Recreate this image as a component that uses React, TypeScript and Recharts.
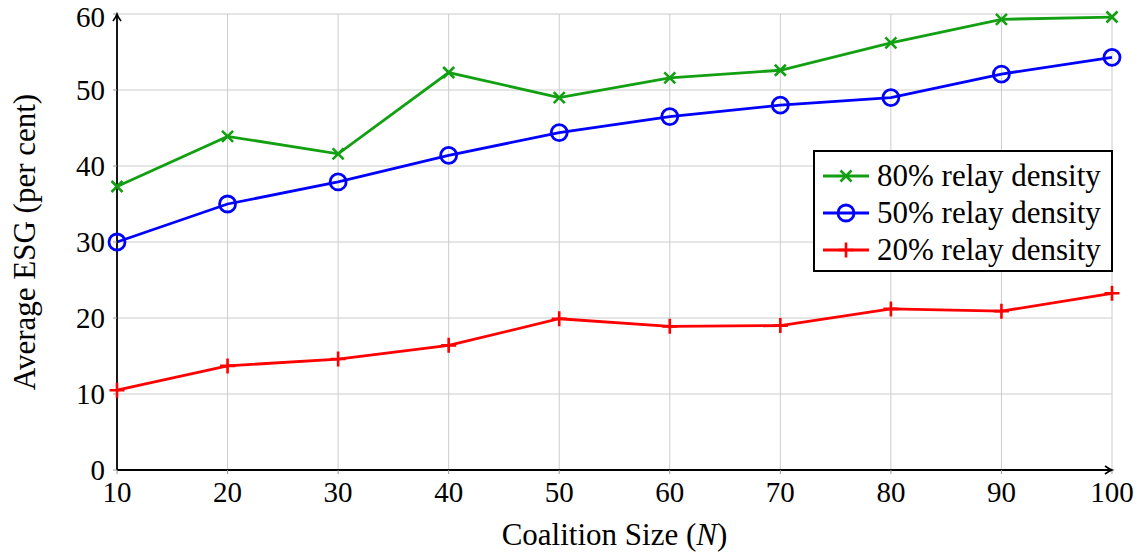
import { CartesianGrid, Line, LineChart, ReferenceDot, XAxis, YAxis } from 'recharts'

const coalitionSizes = [10, 20, 30, 40, 50, 60, 70, 80, 90, 100]
const esg80 = [37.3, 43.9, 41.6, 52.3, 49.0, 51.6, 52.6, 56.2, 59.3, 59.6]
const esg50 = [30.0, 35.0, 37.9, 41.4, 44.4, 46.5, 48.0, 49.0, 52.1, 54.3]
const esg20 = [10.5, 13.7, 14.6, 16.4, 19.9, 18.9, 19.0, 21.2, 20.9, 23.25]
const yTicks = [0, 10, 20, 30, 40, 50, 60]

const FONT = '"Liberation Serif", "DejaVu Serif", serif'
const FS = 29 // tick numbers
const TS = 31 // axis titles and legend
const GREEN = '#12a012'
const BLUE = '#0000ff'
const RED = '#ff0000'

const data = coalitionSizes.map((n, i) => ({ n, d80: esg80[i], d50: esg50[i], d20: esg20[i] }))

type MarkProps = { cx?: number; cy?: number; color: string }

function Cross({ cx = 0, cy = 0, color }: MarkProps) {
  const s = 5.5
  return (
    <path
      d={`M${cx - s},${cy - s}L${cx + s},${cy + s}M${cx - s},${cy + s}L${cx + s},${cy - s}`}
      stroke={color}
      strokeWidth={2.6}
      fill="none"
    />
  )
}

function Ring({ cx = 0, cy = 0, color }: MarkProps) {
  return <circle cx={cx} cy={cy} r={8} stroke={color} strokeWidth={2.8} fill="none" />
}

function Plus({ cx = 0, cy = 0, color }: MarkProps) {
  const s = 7.5
  return (
    <path
      d={`M${cx - s},${cy}L${cx + s},${cy}M${cx},${cy - s}L${cx},${cy + s}`}
      stroke={color}
      strokeWidth={2.6}
      fill="none"
    />
  )
}

const legendRows = [
  { label: '80% relay density', color: GREEN, Mark: Cross },
  { label: '50% relay density', color: BLUE, Mark: Ring },
  { label: '20% relay density', color: RED, Mark: Plus },
]

function LegendBox() {
  return (
    <div
      style={{
        position: 'absolute',
        left: 813,
        top: 150,
        border: '2px solid #000',
        background: '#fff',
        width: 300,
        height: 122,
        boxSizing: 'border-box',
        paddingTop: 5,
        fontFamily: FONT,
        fontSize: TS,
        lineHeight: 1,
      }}
    >
      {legendRows.map(({ label, color, Mark }) => (
        <div key={label} style={{ display: 'flex', alignItems: 'center', height: 37, color: '#000' }}>
          <svg width={62} height={30} style={{ flex: 'none' }}>
            <line x1={8} x2={54} y1={15} y2={15} stroke={color} strokeWidth={2.8} />
            <Mark cx={31} cy={15} color={color} />
          </svg>
          <span style={{ whiteSpace: 'nowrap' }}>{label}</span>
        </div>
      ))}
    </div>
  )
}

function ArrowUp({ cx = 0, cy = 0 }: { cx?: number; cy?: number }) {
  return <path d={`M${cx - 4},${cy + 7}Q${cx - 1},${cy + 3} ${cx},${cy}Q${cx + 1},${cy + 3} ${cx + 4},${cy + 7}`} stroke="#000" strokeWidth={1.6} fill="none" />
}

function ArrowRight({ cx = 0, cy = 0 }: { cx?: number; cy?: number }) {
  return <path d={`M${cx - 7},${cy - 4}Q${cx - 3},${cy - 1} ${cx},${cy}Q${cx - 3},${cy + 1} ${cx - 7},${cy + 4}`} stroke="#000" strokeWidth={1.6} fill="none" />
}

type Box = { x: number; y: number; width: number; height: number }

function XTitle({ viewBox }: { viewBox?: Box }) {
  if (!viewBox) return null
  const cx = viewBox.x + viewBox.width / 2
  return (
    <text x={cx} y={viewBox.y + 75} textAnchor="middle" fontFamily={FONT} fontSize={TS} fill="#000">
      Coalition Size (<tspan fontStyle="italic">N</tspan>)
    </text>
  )
}

function YTitle({ viewBox }: { viewBox?: Box }) {
  if (!viewBox) return null
  const cy = viewBox.y + viewBox.height / 2
  const x = 35
  return (
    <text x={x} y={cy} transform={`rotate(-90 ${x} ${cy})`} textAnchor="middle" fontFamily={FONT} fontSize={TS} fill="#000">
      Average ESG (per cent)
    </text>
  )
}

export default function App() {
  const tickStyle = { fontFamily: FONT, fontSize: FS, fill: '#000' }
  return (
    <div style={{ position: 'absolute', left: 0, top: 0, width: 1145, height: 556, background: '#fff' }}>
      <LineChart width={1145} height={556} data={data} margin={{ top: 14, right: 33, left: 0, bottom: 0 }}>
        <CartesianGrid stroke="#cccccc" strokeWidth={1} verticalValues={coalitionSizes} horizontalValues={yTicks} />
        <XAxis
          dataKey="n"
          type="number"
          domain={[10, 100]}
          ticks={coalitionSizes}
          height={86}
          axisLine={{ stroke: '#000', strokeWidth: 1.8 }}
          tickLine={{ stroke: '#999' }}
          tickSize={4}
          tick={{ ...tickStyle, dy: 5 }}
          label={<XTitle />}
        />
        <YAxis
          type="number"
          domain={[0, 60]}
          ticks={yTicks}
          width={117}
          axisLine={{ stroke: '#000', strokeWidth: 1.8 }}
          tickLine={{ stroke: '#999' }}
          tickSize={4}
          tick={{ ...tickStyle, dx: -6 }}
          label={<YTitle />}
        />
        <Line
          dataKey="d80"
          name="80% relay density"
          stroke={GREEN}
          strokeWidth={2.8}
          dot={(p: { cx?: number; cy?: number; index?: number }) => <Cross key={`g${p.index}`} cx={p.cx} cy={p.cy} color={GREEN} />}
          activeDot={false}
          isAnimationActive={false}
        />
        <Line
          dataKey="d50"
          name="50% relay density"
          stroke={BLUE}
          strokeWidth={2.8}
          dot={(p: { cx?: number; cy?: number; index?: number }) => <Ring key={`b${p.index}`} cx={p.cx} cy={p.cy} color={BLUE} />}
          activeDot={false}
          isAnimationActive={false}
        />
        <Line
          dataKey="d20"
          name="20% relay density"
          stroke={RED}
          strokeWidth={2.8}
          dot={(p: { cx?: number; cy?: number; index?: number }) => <Plus key={`r${p.index}`} cx={p.cx} cy={p.cy} color={RED} />}
          activeDot={false}
          isAnimationActive={false}
        />
        <ReferenceDot x={10} y={60} ifOverflow="visible" shape={(p: { cx?: number; cy?: number }) => <ArrowUp cx={p.cx} cy={p.cy} />} />
        <ReferenceDot x={100} y={0} ifOverflow="visible" shape={(p: { cx?: number; cy?: number }) => <ArrowRight cx={p.cx} cy={p.cy} />} />
      </LineChart>
      <LegendBox />
    </div>
  )
}
